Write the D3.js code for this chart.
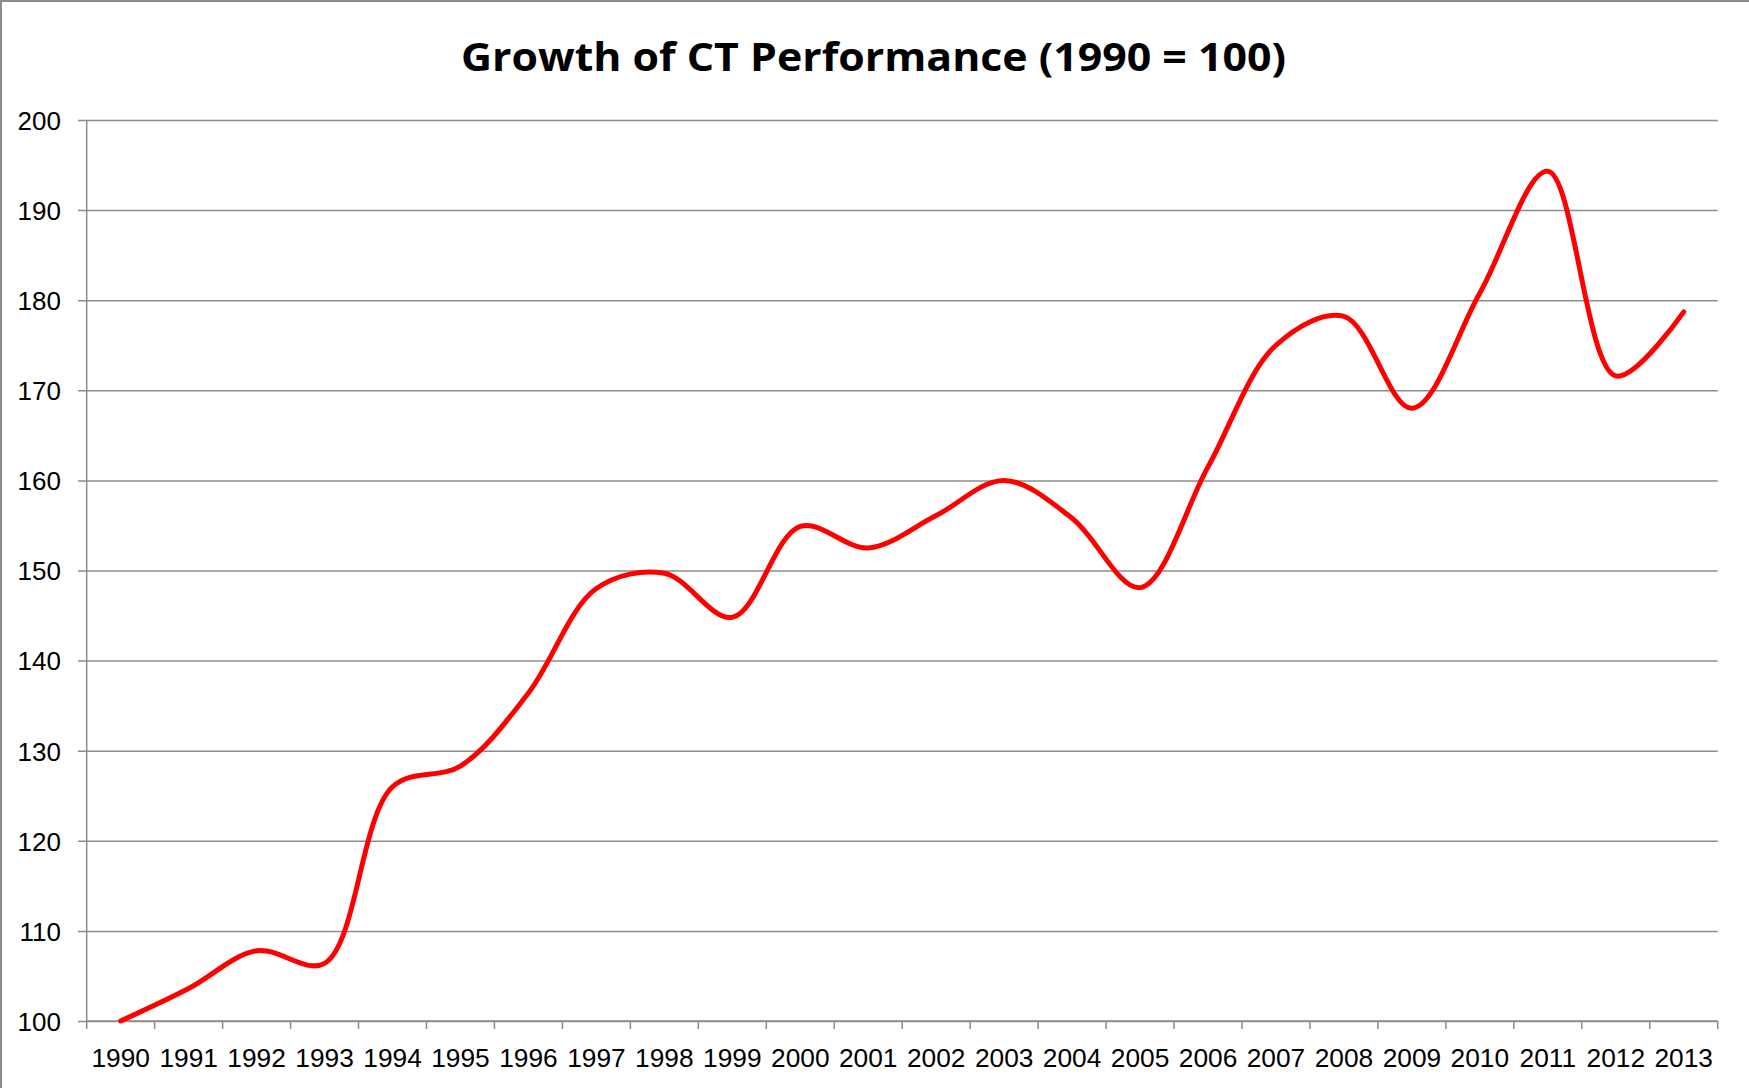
<!DOCTYPE html>
<html>
<head>
<meta charset="utf-8">
<script src="https://cdn.jsdelivr.net/npm/d3@7"></script>
<style>
  html, body { margin: 0; padding: 0; background: #fff; }
  svg { display: block; }
</style>
</head>
<body>
<script>
const titleText = "Growth of CT Performance (1990 = 100)";
const years = ["1990","1991","1992","1993","1994","1995","1996","1997","1998","1999","2000","2001",
               "2002","2003","2004","2005","2006","2007","2008","2009","2010","2011","2012","2013"];
const values = [100, 103.6, 107.8, 106.4, 126, 128.3, 136.4, 148, 149.7, 144.8, 154.9, 152.5,
                156.1, 160, 155.8, 148.1, 161.5, 175, 178.2, 168, 180.8, 194.3, 171.6, 178.7];
const yTicks = [100, 110, 120, 130, 140, 150, 160, 170, 180, 190, 200];

const W = 1749, H = 1088;
const plotL = 86.7, plotR = 1717.7, plotT = 120, plotB = 1021;
const gridColor = "#8c8c8c";
const font = "'Liberation Sans', Arial, sans-serif";

const svg = d3.select("body").append("svg").attr("width", W).attr("height", H);

// chart area border (left & top visible)
svg.append("line").attr("x1", 1).attr("x2", 1).attr("y1", 0).attr("y2", H)
  .attr("stroke", gridColor).attr("stroke-width", 2);
svg.append("line").attr("x1", 0).attr("x2", W).attr("y1", 1).attr("y2", 1)
  .attr("stroke", gridColor).attr("stroke-width", 2);

const x = d3.scaleBand().domain(years).range([plotL, plotR]).padding(0);
const y = d3.scaleLinear().domain([100, 200]).range([plotB, plotT]);

// title
svg.append("text")
  .attr("x", 873.5)
  .attr("y", 71)
  .attr("text-anchor", "middle")
  .attr("font-family", "'Open Sans', 'Noto Sans', sans-serif")
  .attr("font-weight", "bold")
  .attr("font-size", 39)
  .attr("fill", "#000")
  .attr("textLength", 825)
  .attr("lengthAdjust", "spacingAndGlyphs")
  .text(titleText);

// y gridlines via axis
const yAxis = d3.axisLeft(y).tickValues(yTicks).tickSize(-(plotR - plotL)).tickPadding(0).tickFormat(d => d);
const gy = svg.append("g").attr("transform", `translate(${plotL},0)`).call(yAxis);
gy.select(".domain").remove();
gy.selectAll(".tick line").attr("stroke", gridColor).attr("stroke-width", 1.5)
  .attr("x1", -8.7);
gy.selectAll(".tick text")
  .attr("x", 61 - plotL)
  .attr("dy", "0.36em")
  .attr("text-anchor", "end")
  .attr("font-family", font)
  .attr("font-size", 26)
  .attr("fill", "#000");

// y axis line
svg.append("line").attr("x1", plotL).attr("x2", plotL).attr("y1", plotT).attr("y2", plotB)
  .attr("stroke", gridColor).attr("stroke-width", 1.5);

// x axis
const gx = svg.append("g").attr("transform", `translate(0,${plotB})`);
gx.append("line").attr("x1", plotL).attr("x2", plotR).attr("y1", 0).attr("y2", 0)
  .attr("stroke", gridColor).attr("stroke-width", 1.5);
const boundaries = years.map(d => x(d)).concat([plotR]);
gx.selectAll("line.tk").data(boundaries).enter().append("line").attr("class", "tk")
  .attr("x1", d => d).attr("x2", d => d).attr("y1", 0).attr("y2", 8)
  .attr("stroke", gridColor).attr("stroke-width", 1.5);
gx.selectAll("text").data(years).enter().append("text")
  .attr("x", d => x(d) + x.bandwidth() / 2)
  .attr("y", 46)
  .attr("text-anchor", "middle")
  .attr("font-family", font)
  .attr("font-size", 26.3)
  .attr("fill", "#000")
  .text(d => d);

// line
const line = d3.line()
  .x((d, i) => x(years[i]) + x.bandwidth() / 2)
  .y(d => y(d))
  .curve(d3.curveCatmullRom.alpha(0.5));
svg.append("path").datum(values)
  .attr("d", line)
  .attr("fill", "none")
  .attr("stroke", "#ff0000")
  .attr("stroke-width", 5)
  .attr("stroke-linecap", "round")
  .attr("stroke-linejoin", "round");
</script>
</body>
</html>
